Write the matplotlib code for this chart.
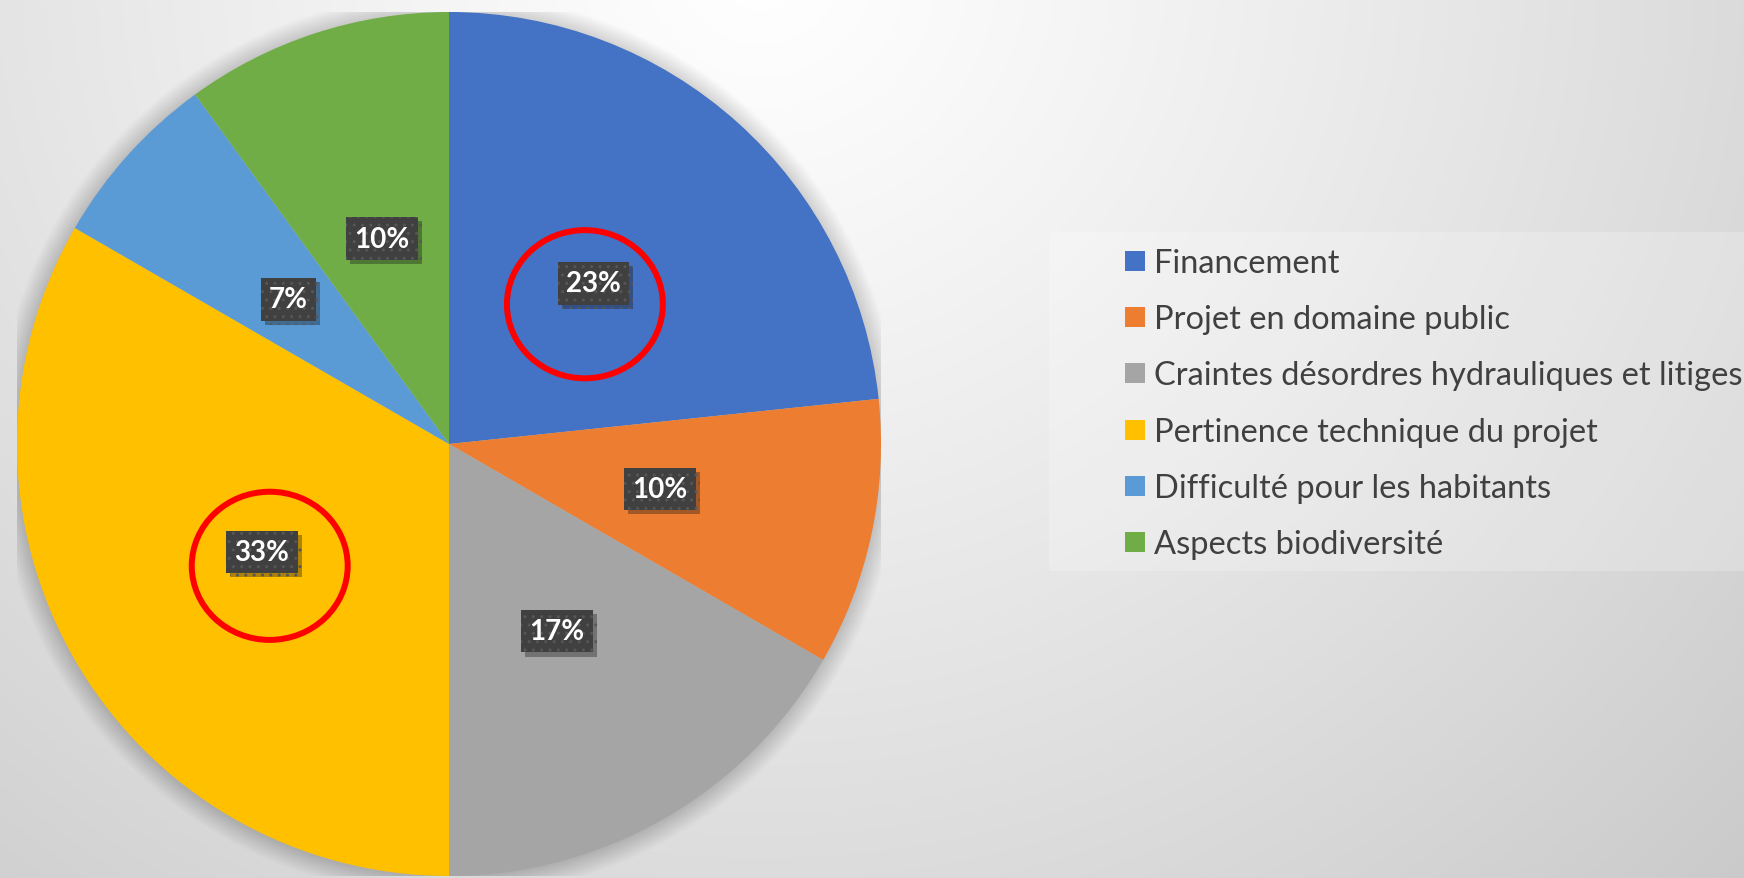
import matplotlib.pyplot as plt
import matplotlib.patheffects as pe
from matplotlib.patches import Ellipse, Circle, Rectangle
import numpy as np

categories = ['Financement', 'Projet en domaine public',
              'Craintes désordres hydrauliques et litiges',
              'Pertinence technique du projet',
              'Difficulté pour les habitants', 'Aspects biodiversité']
counts = [7, 3, 5, 10, 2, 3]
colors = ['#4472C4', '#ED7D31', '#A5A5A5', '#FFC000', '#5B9BD5', '#70AD47']
circled = [0, 3]  # slices whose labels are circled in red

W, H = 1744, 879
font = 'Lato'

fig = plt.figure(figsize=(W / 100, H / 100), dpi=100)

# background radial gradient
bg = fig.add_axes([0, 0, 1, 1], zorder=-10)
yy, xx = np.mgrid[0:H, 0:W]
d = np.hypot(xx - 760, (yy + 30) * 1.05)
v = 255 - 52 * (d / 1350) ** 1.15
v = np.clip(v, 195, 255) / 255
bg.imshow(np.dstack([v, v, v]), extent=[0, W, H, 0], aspect='auto')
bg.set_xlim(0, W)
bg.set_ylim(H, 0)
bg.axis('off')

# legend background panel
bg.add_patch(Rectangle((1049, 233), W - 1049, 339, facecolor='white', alpha=0.22,
                       edgecolor='none'))

# pie
cx, cy, R = 449, 445, 432
ax = fig.add_axes([(cx - R) / W, (H - cy - R) / H, 2 * R / W, 2 * R / H])

# soft shadow around the pie
for i in range(22):
    ax.add_patch(Circle((-0.002, -0.003), 1 + 0.0022 * i, facecolor='black',
                        alpha=0.009, edgecolor='none', zorder=0))

wedges, texts, autotexts = ax.pie(counts, colors=colors, startangle=90, counterclock=False,
                                  radius=1, autopct='%1.0f%%', pctdistance=0.5,
                                  wedgeprops=dict(linewidth=0), frame=True)
ax.set_xlim(-1, 1)
ax.set_ylim(-1, 1)
ax.axis('off')
for w in wedges:
    w.set_zorder(2)

for t in autotexts:
    t.set_fontfamily(font)
    t.set_fontweight('bold')
    t.set_fontsize(20)
    t.set_color('white')
    t.set_zorder(5)
    t.set_bbox(dict(boxstyle='square,pad=0.3', facecolor='#404040', edgecolor='#565656',
                    linewidth=0, hatch='..'))
    t.get_bbox_patch().set_path_effects([pe.SimplePatchShadow(offset=(3, -3), alpha=0.35),
                                         pe.Normal()])

# red circles around two labels
offsets = {0: (-0.02, -0.048), 3: (0.018, -0.032)}
for i in circled:
    x, y = autotexts[i].get_position()
    ox, oy = offsets[i]
    ax.add_patch(Ellipse((x + ox, y + oy), 0.361, 0.343, fill=False, edgecolor='#FF0000',
                         linewidth=4.3, zorder=6))

# legend
row0, step = 262, 56.2
for i, (name, c) in enumerate(zip(categories, colors)):
    yc = row0 + i * step
    bg.add_patch(Rectangle((1125, yc - 10), 20, 20, facecolor=c, edgecolor='none'))
    bg.text(1154, yc + 11, name, fontsize=23.5, color='#404040', family=font,
            va='baseline', ha='left')

fig.savefig('out.png', dpi=100)
